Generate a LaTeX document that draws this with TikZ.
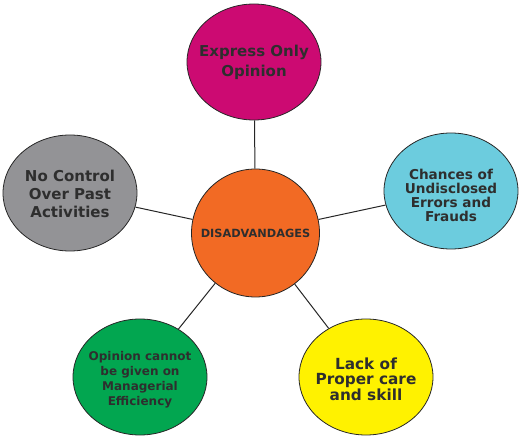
\documentclass[tikz,border=0pt]{standalone}
\usepackage{xcolor}
\usepackage{fontspec}
\setmainfont{DejaVu Sans}
\usepackage{tikz}
\usetikzlibrary{shapes.geometric}

\definecolor{topc}{HTML}{CC0A72}
\definecolor{midc}{HTML}{F26A24}
\definecolor{rightc}{HTML}{6CCCDE}
\definecolor{leftc}{HTML}{939396}
\definecolor{greenc}{HTML}{02A650}
\definecolor{yellowc}{HTML}{FFF200}
\definecolor{txt}{HTML}{2E2E2E}

\begin{document}
\begin{tikzpicture}[
    x=1pt, y=-1pt,
    bubble/.style={ellipse, draw=black!85, line width=0.8pt, minimum width=134pt, minimum height=116pt, inner sep=0pt},
    words/.style={align=center, text=txt, inner sep=0pt},
    hub/.style={circle, draw=black!85, line width=0.8pt, fill=midc, minimum size=128pt, inner sep=0pt, text=txt, font=\bfseries\fontsize{11.3}{13}\selectfont},
    link/.style={line width=1pt, draw=black!85}
]
    \useasboundingbox (0,0) rectangle (522,443);

    % Centre
    \node[hub] (hub) at (255.5,233) {DISADVANDAGES};

    % Outer bubbles
    \node[bubble, fill=topc, label={[words, font=\bfseries\fontsize{15}{20}\selectfont]center:Express Only\\Opinion}] (opinion) at (254,62) {};
    \node[bubble, fill=rightc, label={[words, yshift=-4pt, font=\bfseries\fontsize{13.6}{14}\selectfont]center:Chances of\\Undisclosed\\Errors and\\Frauds}] (frauds) at (451,191) {};
    \node[bubble, fill=yellowc, label={[words, yshift=-2pt, font=\bfseries\fontsize{15.3}{15.5}\selectfont]center:Lack of\\Proper care\\and skill}] (care) at (366,377) {};
    \node[bubble, fill=greenc, label={[words, yshift=-3pt, font=\bfseries\fontsize{12}{15}\selectfont]center:Opinion cannot\\be given on\\Managerial\\Efficiency}] (managerial) at (140,377) {};
    \node[bubble, fill=leftc, label={[words, yshift=-1pt, font=\bfseries\fontsize{15}{18}\selectfont]center:No Control\\Over Past\\Activities}] (control) at (70,193) {};

    % Connections
    \draw[link] (hub) -- (opinion);
    \draw[link] (hub) -- (frauds);
    \draw[link] (hub) -- (care);
    \draw[link] (hub) -- (managerial);
    \draw[link] (hub) -- (control);

\end{tikzpicture}
\end{document}
